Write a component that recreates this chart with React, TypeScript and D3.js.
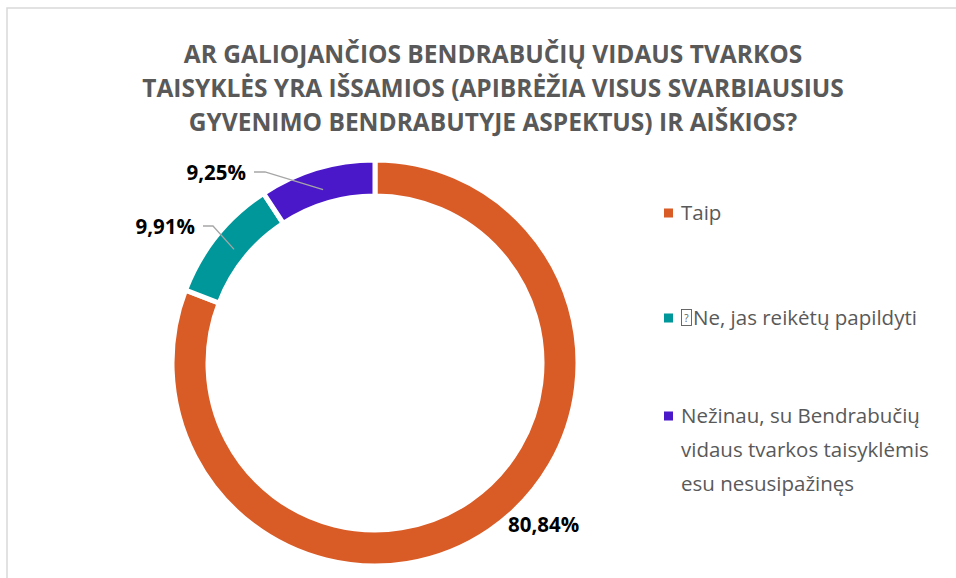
import { useRef, useEffect } from 'react';
import * as d3 from 'd3';

const titleLines = [
  'AR GALIOJANČIOS BENDRABUČIŲ VIDAUS TVARKOS',
  'TAISYKLĖS YRA IŠSAMIOS (APIBRĖŽIA VISUS SVARBIAUSIUS',
  'GYVENIMO BENDRABUTYJE ASPEKTUS) IR AIŠKIOS?',
];
const categories = ['Taip', 'Ne, jas reikėtų papildyti', 'Nežinau, su Bendrabučių vidaus tvarkos taisyklėmis esu nesusipažinęs'];
const legendLines = [['Taip'], ['Ne, jas reikėtų papildyti'], ['Nežinau, su Bendrabučių', 'vidaus tvarkos taisyklėmis', 'esu nesusipažinęs']];
const values = [80.84, 9.91, 9.25];
const labels = ['80,84%', '9,91%', '9,25%'];
const colors = ['#D95B26', '#00979A', '#4A17C9'];

export default function App() {
  const width = 956;
  const height = 578;
  const cx = 375;
  const cy = 363;
  const outerR = 203;
  const innerR = 167;
  const gRef = useRef<SVGGElement>(null);

  useEffect(() => {
    const g = d3.select(gRef.current);
    g.selectAll('*').remove();
    const pie = d3.pie<number>().sort(null).value(d => d);
    const arc = d3.arc<d3.PieArcDatum<number>>().innerRadius(innerR).outerRadius(outerR);
    const arcs = pie(values);
    g.selectAll('path.slice')
      .data(arcs)
      .join('path')
      .attr('class', 'slice')
      .attr('d', arc)
      .attr('fill', (_d, i) => colors[i])
      .attr('stroke', 'white')
      .attr('stroke-width', 5);

    const mid = (d: d3.PieArcDatum<number>) => (d.startAngle + d.endAngle) / 2;
    const pt = (a: number, r: number) => [Math.sin(a) * r, -Math.cos(a) * r];
    const font = '"Open Sans", Lato, sans-serif';

    // big slice label, just outside the ring
    const [bx, by] = pt(mid(arcs[0]), outerR);
    g.append('text')
      .attr('x', bx + 18).attr('y', by + 2)
      .attr('font-family', font)
      .attr('font-weight', 'bold').attr('font-size', 20.5)
      .attr('fill', '#000')
      .text(labels[0]);

    // small slices: label to the upper left, leader line to the ring
    const leader = [null, { x0: -172, x1: -162, y: -137 }, { x0: -121, x1: -110, y: -191 }];
    arcs.forEach((d, i) => {
      const o = leader[i];
      if (!o) return;
      const [ax, ay] = pt(mid(d), 181);
      g.append('polyline')
        .attr('points', `${o.x0},${o.y} ${o.x1},${o.y} ${ax},${ay}`)
        .attr('fill', 'none').attr('stroke', '#A6A6A6').attr('stroke-width', 1.3);
      g.append('text')
        .attr('x', o.x0 - 8).attr('y', o.y + 7.5)
        .attr('text-anchor', 'end')
        .attr('font-family', font)
        .attr('font-weight', 'bold').attr('font-size', 20.5)
        .attr('fill', '#000')
        .text(labels[i]);
    });
  }, []);

  const legendY = [213, 318, 416];
  const lineH = 34;

  return (
    <svg width={width} height={height} style={{ position: 'absolute', left: 0, top: 0, background: '#fff' }}>
      <rect x={7} y={8} width={width + 10} height={height + 10} fill="#fff" stroke="#D9D9D9" strokeWidth={1.5} />
      <g fontFamily="'Open Sans', Lato, sans-serif" fontWeight="bold" fontSize={24.5} fill="#595959" textAnchor="middle">
        {titleLines.map((t, i) => (
          <text key={i} x={493} y={63 + i * 34}>{t}</text>
        ))}
      </g>
      <g ref={gRef} transform={`translate(${cx},${cy})`} />
      <g fontFamily="'Open Sans', sans-serif" fontSize={20.5} fill="#595959">
        {categories.map((c, i) => (
          <g key={c}>
            <rect x={664} y={legendY[i] - 4.5} width={9} height={9} fill={colors[i]} />
            {i === 1 && (
              <g>
                <rect x={681.5} y={legendY[i] - 8.5} width={10} height={16} fill="none" stroke="#595959" strokeWidth={0.9} />
                <text x={686.5} y={legendY[i] + 3.5} fontSize={10} textAnchor="middle">?</text>
              </g>
            )}
            {legendLines[i].map((l, j) => (
              <text key={j} x={i === 1 ? 693 : 681} y={legendY[i] + j * lineH + 7}>{l}</text>
            ))}
          </g>
        ))}
      </g>
    </svg>
  );
}
